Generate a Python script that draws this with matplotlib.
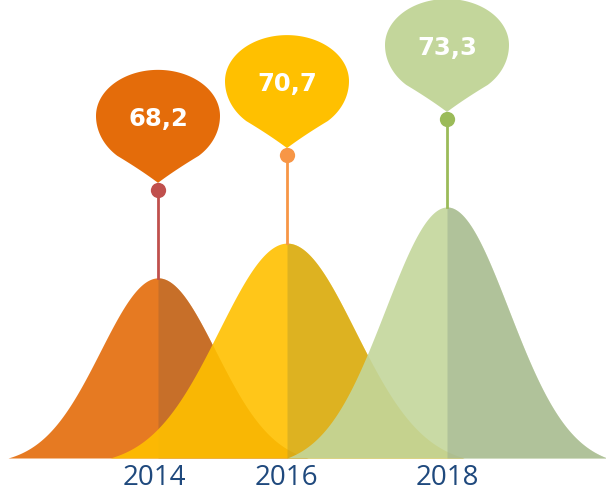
import numpy as np
import matplotlib.pyplot as plt
from matplotlib.patches import Polygon

years = ['2014', '2016', '2018']
values = [68.2, 70.7, 73.3]
labels = ['68,2', '70,7', '73,3']

# layout, in pixels of the 606x492 picture
centers = [158, 287, 447]
label_x = [154, 286, 447]
half_widths = [150, 177, 160]
base_colors = ['#E46C0A', '#FFC000', '#C3D69B']
shade_colors = ['#A96630', '#BC9F2A', '#98AC91']
stem_colors = ['#C0504D', '#F79646', '#9BBB59']

W, H = 606, 492
baseline = 55.24      # value at the foot of the bells
ppu = 13.9            # pixels per value unit
base_px = 458
ymin = baseline - (H - base_px) / ppu
ymax = baseline + base_px / ppu
stem_px = 88


def bezier(p0, p1, p2, p3, n=40):
    t = np.linspace(0, 1, n)[:, None]
    return ((1 - t) ** 3) * p0 + 3 * ((1 - t) ** 2) * t * p1 + 3 * (1 - t) * t ** 2 * p2 + t ** 3 * p3


def teardrop(rx=62, ry_top=46, ry_low=53, d_join=40, T=67):
    # pixel offsets, y up, tip at (0, 0), widest line at y = T
    t = np.linspace(0, np.pi, 90)
    top = np.column_stack([rx * np.cos(t), T + ry_top * np.sin(t)])
    tj = np.arcsin(d_join / ry_low)
    t = np.linspace(np.pi, np.pi + tj, 30)
    low = np.column_stack([rx * np.cos(t), T + ry_low * np.sin(t)])
    p0 = low[-1]
    tip = np.array([0.0, 0.0])
    c1 = p0 + 0.35 * (tip - p0) + np.array([1.5, 0.0])
    c2 = p0 + 0.7 * (tip - p0) + np.array([1.5, 0.0])
    left = np.vstack([low, bezier(p0, c1, c2, tip)[1:]])
    right = left[::-1] * np.array([-1, 1])
    return np.vstack([top, left[1:], right[1:]])


fig = plt.figure(figsize=(W / 100, H / 100), dpi=100)
ax = fig.add_axes([0, 0, 1, 1])
ax.set_xlim(0, W)
ax.set_ylim(ymin, ymax)
ax.axis('off')

shape = teardrop()

for i in range(len(years)):
    c, w, v = centers[i], half_widths[i], values[i]
    x = np.linspace(c - w, c + w, 401)
    s = w / 2.6
    g = np.exp(-0.5 * ((x - c) / s) ** 2)
    g0 = np.exp(-0.5 * 2.6 ** 2)
    y = baseline + (v - baseline) * (g - g0) / (1 - g0)
    rm = x >= c
    ax.fill_between(x, baseline, y, color=base_colors[i], alpha=0.9, lw=0, zorder=1 + i)
    ax.fill_between(x[rm], baseline, y[rm], color=shade_colors[i], alpha=0.5, lw=0, zorder=1 + i)

    dot_y = v + stem_px / ppu
    ax.plot([c, c], [v, dot_y], color=stem_colors[i], lw=2, zorder=10)
    ax.plot(c, dot_y, 'o', ms=11, color=stem_colors[i], mec='none', zorder=11)

    tip_y = dot_y + 7 / ppu
    pts = np.column_stack([c + shape[:, 0], tip_y + shape[:, 1] / ppu])
    ax.add_patch(Polygon(pts, closed=True, fc=base_colors[i], ec='none', zorder=12))
    ax.text(c, tip_y + 64 / ppu, labels[i], ha='center', va='center', color='white',
            fontsize=17.5, fontweight='bold', family='DejaVu Sans', zorder=13)

    ax.text(label_x[i], baseline - 20 / ppu, years[i], ha='center', va='center', color='#1F497D',
            fontsize=20, family='Open Sans', zorder=13)

fig.savefig('out.png', dpi=100)
